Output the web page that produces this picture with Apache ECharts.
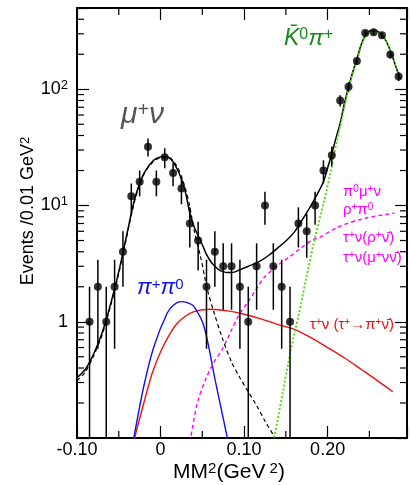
<!DOCTYPE html>
<html><head><meta charset="utf-8">
<script src="https://cdn.jsdelivr.net/npm/echarts@6/dist/echarts.min.js"></script>
<style>html,body{margin:0;padding:0;background:#fff}#c{width:410px;height:485px}</style>
</head><body><div id="c"></div>
<script>
// ---- data ----
const binCenters = [-0.085,-0.075,-0.065,-0.055,-0.045,-0.035,-0.025,-0.015,-0.005,0.005,0.015,0.025,0.035,0.045,0.055,0.065,0.075,0.085,0.095,0.105,0.115,0.125,0.135,0.145,0.155,0.165,0.175,0.185,0.195,0.205,0.215,0.225,0.235,0.245,0.255,0.265,0.275,0.285];
const counts = [1,2,1,2,4,12,16,32,16,26,19,14,7,5,2,4,3,3,2,1,3,10,3,2,1,7,6,10,20,27,80,105,175,304,310,291,199,129];
const errLow  = counts.map(n => n - Math.sqrt(n));
const errHigh = counts.map(n => n + Math.sqrt(n));

const totalX = [-0.10,-0.09,-0.08,-0.07,-0.06,-0.05,-0.04,-0.035,-0.03,-0.025,-0.02,-0.015,-0.01,-0.005,0,0.005,0.01,0.015,0.02,0.025,0.03,0.035,0.04,0.045,0.05,0.055,0.06,0.065,0.07,0.075,0.08,0.085,0.09,0.095,0.10,0.11,0.12,0.13,0.14,0.15,0.16,0.17,0.18,0.19,0.195,0.20,0.205,0.21,0.215,0.22,0.225,0.23,0.235,0.24,0.245,0.25,0.255,0.26,0.265,0.27,0.275,0.28,0.285,0.287];
const totalY = [0.33,0.39,0.53,0.80,1.4,2.7,5.8,8.6,12,15.5,18.8,21.5,23.8,25.4,26.2,26.5,25.8,23.8,20.5,16.8,12.8,8.6,6.6,5.5,4.6,3.8,3.3,3.0,2.8,2.7,2.65,2.65,2.7,2.8,2.9,3.1,3.35,3.75,4.3,4.95,5.9,7.6,10,13.5,16,21,28,38,51,75,104,140,182,240,290,316,320,315,292,260,215,170,133,124];

const muNuX = [-0.10,-0.09,-0.08,-0.07,-0.06,-0.05,-0.04,-0.03,-0.02,-0.01,0,0.01,0.02,0.025,0.03,0.035,0.04,0.048,0.056,0.064,0.074,0.085,0.095,0.105,0.115,0.125,0.137,0.142];
const muNuY = [0.31,0.37,0.51,0.77,1.35,2.6,5.6,11.6,18.5,23.3,25.7,25.8,21.5,17.8,13.8,9.8,6.2,3.6,1.9,1.2,0.72,0.45,0.33,0.25,0.19,0.14,0.1,0.08];

const pipi0X = [-0.034,-0.032,-0.02,-0.008,0.008,0.016,0.024,0.032,0.04,0.052,0.066,0.08,0.083];
const pipi0Y = [0.08,0.1,0.28,0.61,1.19,1.4,1.49,1.46,1.35,0.91,0.30,0.1,0.08];

const tauPiX = [-0.033,-0.031,-0.02,-0.01,0,0.01,0.02,0.03,0.04,0.05,0.06,0.08,0.10,0.12,0.14,0.16,0.18,0.20,0.22,0.24,0.26,0.278];
const tauPiY = [0.08,0.1,0.2,0.36,0.55,0.76,0.97,1.12,1.22,1.27,1.28,1.24,1.16,1.06,0.95,0.86,0.73,0.6,0.49,0.39,0.31,0.25];

const otherX = [0.033,0.036,0.044,0.054,0.064,0.074,0.084,0.094,0.104,0.114,0.124,0.134,0.144,0.154,0.168,0.182,0.19,0.214,0.246,0.28];
const otherY = [0.08,0.1,0.2,0.32,0.45,0.58,0.82,1.15,1.45,1.88,2.4,2.8,3.2,3.6,4.3,5.06,5.3,6.6,7.8,8.6];

const k0piX = [0.133,0.136,0.146,0.156,0.166,0.174,0.184,0.196,0.204,0.208,0.216,0.226,0.236,0.246,0.254,0.262,0.272,0.282,0.287];
const k0piY = [0.08,0.1,0.24,0.575,1.2,2.3,5.0,11.1,20,28,52,108,186,298,318,309,244,154,124];

const xMajorTicks = [-0.10, 0, 0.10, 0.20];
const xMinorTicks = [-0.05, 0.05, 0.15, 0.25];
const yMinorTicks = [0.2,0.3,0.4,0.5,0.6,0.7,0.8,0.9,2,3,4,5,6,7,8,9,20,30,40,50,60,70,80,90,200,300,400];

const X_MIN = -0.10, X_MAX = 0.295, Y_MIN = 0.1, Y_MAX = 500;

// ---- chart ----
const FONT = 'Liberation Sans, Arial, sans-serif';
const zip = (xs, ys) => xs.map((x, i) => [x, ys[i]]);

const tickData = [];
yMinorTicks.forEach(v => { tickData.push([X_MIN, v, 0]); tickData.push([X_MAX, v, 1]); });
xMinorTicks.forEach(v => { tickData.push([v, Y_MIN, 2]); tickData.push([v, Y_MAX, 3]); });

const errData = binCenters.map((x, i) => [x, counts[i], errLow[i], errHigh[i]]);

const chart = echarts.init(document.getElementById('c'), null, {renderer: 'canvas'});
const supRich = {
  b: {fontSize: 18, fontFamily: FONT, color: '#000'},
  s: {fontSize: 13, fontFamily: FONT, color: '#000', verticalAlign: 'top', padding: [0, 0, 8, 0]}
};
const frameLine = {onZero: false, show: true, lineStyle: {color: '#000', width: 2}};
const mk = (c, fs, ss, italic) => ({
  a: {fontSize: fs, fontFamily: FONT, fontStyle: italic ? 'italic' : 'normal', fill: c},
  s: {fontSize: ss, fontFamily: FONT, fill: c, verticalAlign: 'top'}
});
chart.setOption({
  animation: false,
  grid: {left: 77, right: 3, top: 8, bottom: 47, containLabel: false, outerBoundsMode: 'none'},
  xAxis: [{
    type: 'value', min: X_MIN, max: X_MAX, interval: 0.1,
    axisLine: frameLine,
    axisTick: {inside: true, length: 12, lineStyle: {color: '#000', width: 1.2}},
    splitLine: {show: false},
    axisLabel: {
      margin: 3, fontSize: 18, fontFamily: FONT, color: '#000',
      formatter: v => { const r = Math.round(v * 100) / 100; if (xMajorTicks.indexOf(r) < 0 || Math.abs(v - X_MAX) < 1e-6) return ''; return r === 0 ? '0' : r.toFixed(2); }
    }
  }, {
    type: 'value', position: 'top', min: X_MIN, max: X_MAX, interval: 0.1,
    axisLine: frameLine,
    axisTick: {inside: true, length: 12, lineStyle: {color: '#000', width: 1.2}},
    axisLabel: {show: false}, splitLine: {show: false}
  }],
  yAxis: [{
    type: 'log', logBase: 10, min: Y_MIN, max: Y_MAX,
    axisLine: frameLine,
    axisTick: {show: true, inside: true, length: 12, lineStyle: {color: '#000', width: 1.2}},
    splitLine: {show: false},
    axisLabel: {
      margin: 9, fontFamily: FONT, color: '#000', rich: supRich,
      formatter: v => { if (Math.abs(v - 1) < 1e-9) return '{b|1}'; if (Math.abs(v - 10) < 1e-6) return '{b|10}{s|1}'; if (Math.abs(v - 100) < 1e-4) return '{b|10}{s|2}'; return ''; }
    }
  }, {
    type: 'log', logBase: 10, min: Y_MIN, max: Y_MAX, position: 'right',
    axisLine: frameLine,
    axisTick: {show: true, inside: true, length: 12, lineStyle: {color: '#000', width: 1.2}},
    axisLabel: {show: false}, splitLine: {show: false}
  }],
  series: [
    {type: 'custom', name: 'minorTicks', data: tickData, clip: false, silent: true, z: 1,
      renderItem: (params, api) => {
        const p = api.coord([api.value(0), api.value(1)]);
        const side = api.value(2);
        const L = 7;
        let shape;
        if (side === 0) shape = {x1: p[0], y1: p[1], x2: p[0] + L, y2: p[1]};
        else if (side === 1) shape = {x1: p[0], y1: p[1], x2: p[0] - L, y2: p[1]};
        else if (side === 2) shape = {x1: p[0], y1: p[1], x2: p[0], y2: p[1] - L};
        else shape = {x1: p[0], y1: p[1], x2: p[0], y2: p[1] + L};
        return {type: 'line', shape, style: {stroke: '#000', lineWidth: 1.2}};
      }},
    {type: 'line', name: 'tauPi', data: zip(tauPiX, tauPiY), showSymbol: false, smooth: 0.3, lineStyle: {color: '#ee1111', width: 1.4}, z: 2},
    {type: 'line', name: 'pipi0', data: zip(pipi0X, pipi0Y), showSymbol: false, smooth: 0.3, lineStyle: {color: '#1010ee', width: 1.4}, z: 2},
    {type: 'line', name: 'other', data: zip(otherX, otherY), showSymbol: false, smooth: 0.3, lineStyle: {color: '#ff00ff', width: 1.4, type: [4, 3]}, z: 2},
    {type: 'line', name: 'total', data: zip(totalX, totalY), showSymbol: false, smooth: 0.3, lineStyle: {color: '#000', width: 1.5}, z: 3},
    {type: 'line', name: 'muNu', data: zip(muNuX, muNuY), showSymbol: false, smooth: 0.3, lineStyle: {color: '#000', width: 1.2, type: [4, 3]}, z: 3},
    {type: 'line', name: 'k0pi', data: zip(k0piX, k0piY), showSymbol: false, smooth: 0.3, lineStyle: {color: '#44dd00', width: 1.8, type: [2, 2]}, z: 4},
    {type: 'custom', name: 'errors', data: errData, clip: true, z: 5,
      renderItem: (params, api) => {
        const x = api.value(0);
        const lo = Math.max(api.value(2), Y_MIN * 0.5);
        const hi = api.value(3);
        const p1 = api.coord([x, lo]);
        const p2 = api.coord([x, hi]);
        return {type: 'line', shape: {x1: p1[0], y1: p1[1], x2: p2[0], y2: p2[1]}, style: {stroke: '#000', lineWidth: 1.5}};
      }},
    {type: 'scatter', name: 'data', data: zip(binCenters, counts), symbol: 'circle', symbolSize: 8, itemStyle: {color: '#000'}, z: 6}
  ],
  graphic: [
    {type: 'text', x: 229, y: 472, z: 10, style: {text: '{a|MM}{s|2}{a|(GeV}{s| 2}{a|)}', textAlign: 'center', textVerticalAlign: 'middle', rich: mk('#000', 21, 15, false)}},
    {type: 'text', x: 28, y: 211, rotation: Math.PI / 2, z: 10, style: {text: '{a|Events /0.01 GeV}{s|2}', textAlign: 'center', textVerticalAlign: 'middle', rich: mk('#000', 18, 13, false)}},
    {type: 'text', x: 121, y: 100, z: 10, style: {text: '{a|μ}{s|+}{a|ν}', rich: mk('#555', 30, 20, true)}},
    {type: 'text', x: 284, y: 27, z: 10, style: {text: '{a|K\u0304}{s|0}{a|π}{s|+}', rich: mk('#1a8c1a', 23, 16, true)}},
    {type: 'text', x: 137, y: 277, z: 10, style: {text: '{a|π}{s|+}{a|π}{s|0}', rich: mk('#1010ee', 22, 15, true)}},
    {type: 'text', x: 343, y: 184, z: 10, style: {text: '{a|π}{s|0}{a|μ}{s|+}{a|ν}', rich: mk('#ff00ff', 15, 10, false)}},
    {type: 'text', x: 343, y: 202, z: 10, style: {text: '{a|ρ}{s|+}{a|π}{s|0}', rich: mk('#ff00ff', 15, 10, false)}},
    {type: 'text', x: 343, y: 230, z: 10, style: {text: '{a|τ}{s|+}{a|ν(ρ}{s|+}{a|ν\u0304)}', rich: mk('#ff00ff', 15, 10, false)}},
    {type: 'text', x: 343, y: 250, z: 10, style: {text: '{a|τ}{s|+}{a|ν(μ}{s|+}{a|νν\u0304)}', rich: mk('#ff00ff', 15, 10, false)}},
    {type: 'text', x: 310, y: 317, z: 10, style: {text: '{a|τ}{s|+}{a|ν (τ}{s|+}{a|→π}{s|+}{a|ν\u0304)}', rich: mk('#ee1111', 15, 10, false)}}
  ]
});
</script></body></html>
